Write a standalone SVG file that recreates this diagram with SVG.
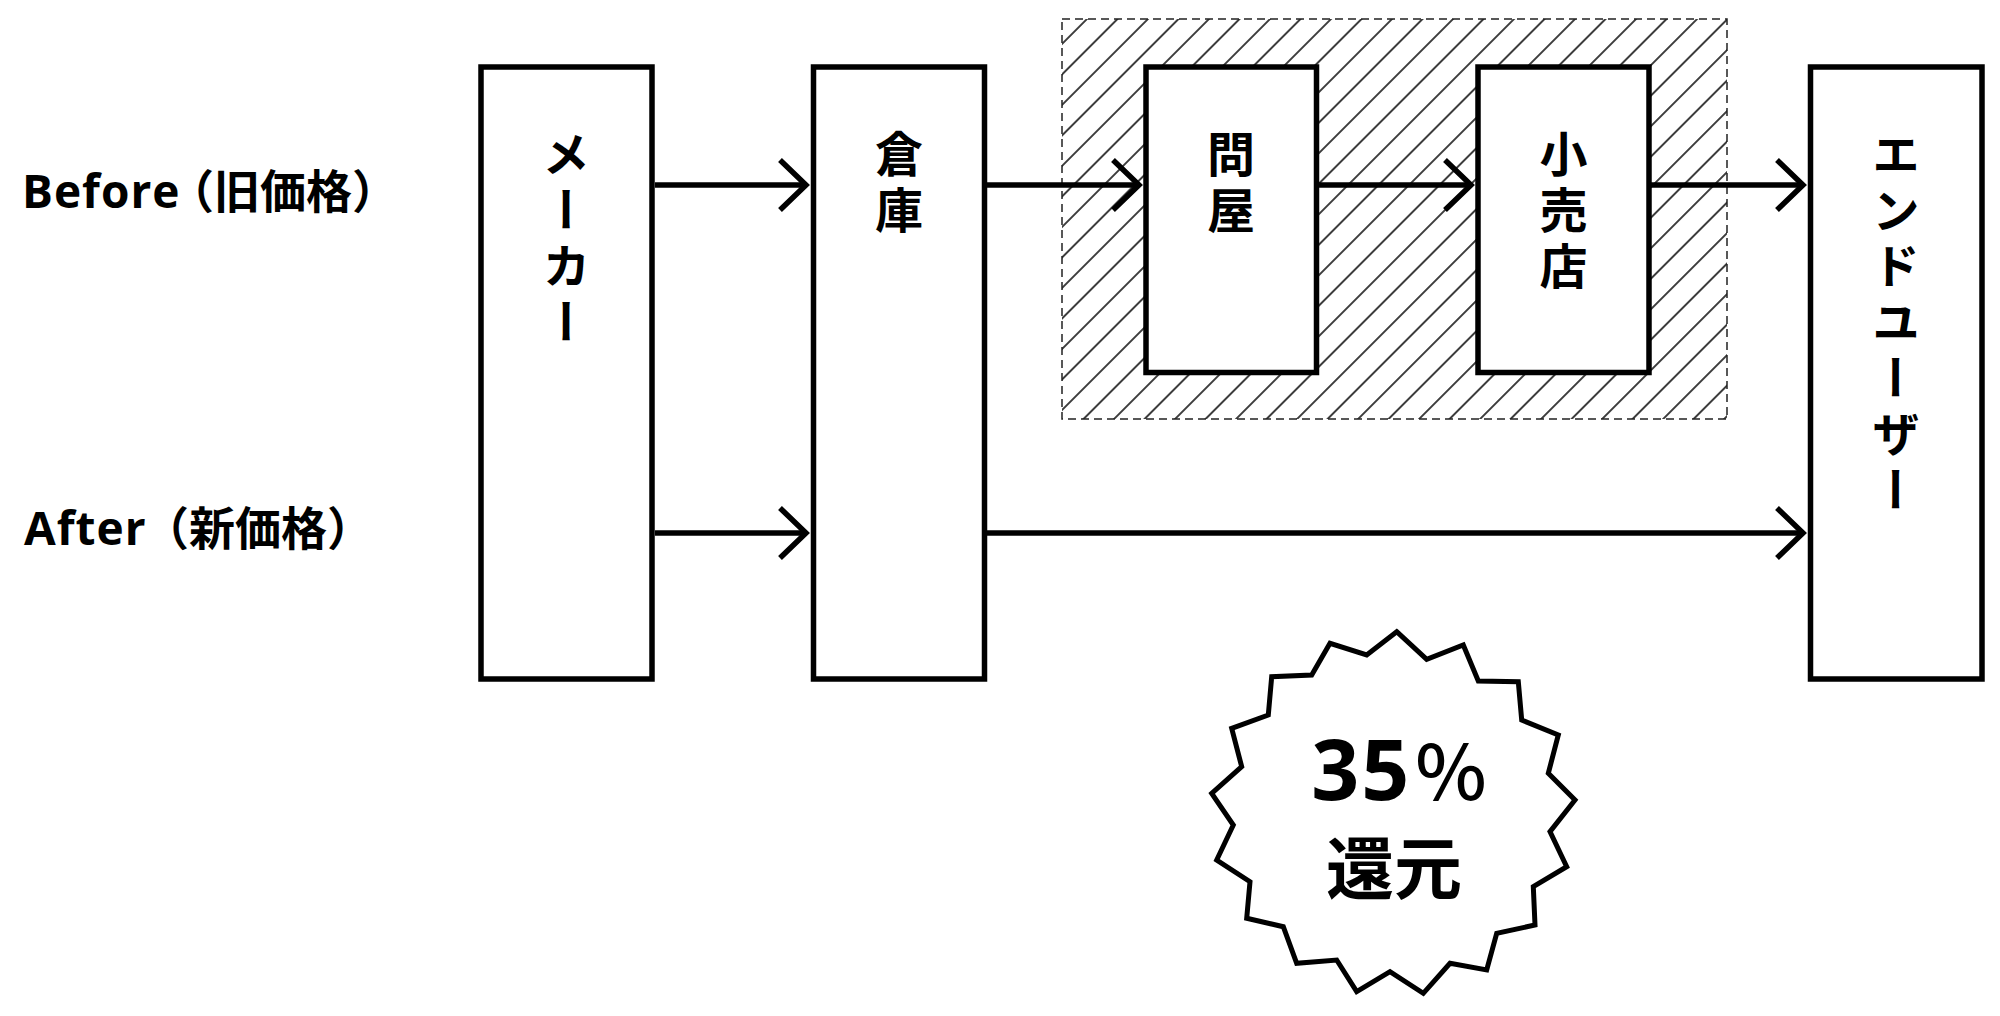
<svg xmlns="http://www.w3.org/2000/svg" width="2000" height="1016" viewBox="0 0 2000 1016">
<style>
  .box { fill: #fff; stroke: #000; stroke-width: 5.5; }
  .conn { fill: none; stroke: #000; stroke-width: 5.5; marker-end: url(#arr); }
  .vtxt { font-family: "Noto Sans CJK JP", sans-serif; font-weight: 700; font-size: 48px; fill: #000; writing-mode: vertical-rl; letter-spacing: 8px; text-anchor: start; }
  .lbl { font-family: "Open Sans", "Noto Sans CJK JP", sans-serif; font-weight: 700; font-size: 46px; fill: #000; letter-spacing: 1px; }
  .cjk { font-family: "Noto Sans CJK JP", sans-serif; font-weight: 700; font-size: 46px; letter-spacing: 0; }
</style>
<defs>
  <marker id="arr" viewBox="-34 -30 40 60" refX="0" refY="0" markerWidth="40" markerHeight="60" markerUnits="userSpaceOnUse" orient="auto" overflow="visible">
    <path d="M-26,-25 L0,0 L-26,25" fill="none" stroke="#000" stroke-width="5.5" stroke-linejoin="miter"/>
  </marker>
  <pattern id="hatch" patternUnits="userSpaceOnUse" x="16.3" y="0" width="21.57" height="21.57" patternTransform="rotate(45)">
    <line x1="10.8" y1="-2" x2="10.8" y2="24" stroke="#000" stroke-width="1.5"/>
  </pattern>
</defs>
<rect width="2000" height="1016" fill="#fff"/>

<g id="labels">
  <text class="lbl" x="22" y="208">Before<tspan class="cjk" x="168">（旧価格）</tspan></text>
  <text class="lbl" x="24" y="545">After<tspan class="cjk" x="143">（新価格）</tspan></text>
</g>

<g id="middleman-area">
  <rect x="1062" y="19" width="665" height="400" fill="url(#hatch)" stroke="#222" stroke-width="1.5" stroke-dasharray="8 5"/>
</g>

<g id="node-maker">
  <rect class="box" x="481" y="67" width="171" height="612"/>
  <text class="vtxt" x="566.5" y="130">メーカー</text>
</g>
<g id="node-warehouse">
  <rect class="box" x="813.5" y="67" width="171" height="612"/>
  <text class="vtxt" x="899" y="130">倉庫</text>
</g>
<g id="node-wholesaler">
  <rect class="box" x="1146" y="67" width="170.5" height="305.5"/>
  <text class="vtxt" x="1231" y="130">問屋</text>
</g>
<g id="node-retailer">
  <rect class="box" x="1478" y="67" width="171" height="305.5"/>
  <text class="vtxt" x="1563.5" y="130">小売店</text>
</g>
<g id="node-enduser">
  <rect class="box" x="1810.5" y="67" width="171.5" height="612"/>
  <text class="vtxt" x="1896" y="130">エンドユーザー</text>
</g>

<g id="connectors">
  <path class="conn" d="M655,185 H806"/>
  <path class="conn" d="M987,185 H1139"/>
  <path class="conn" d="M1319,185 H1471"/>
  <path class="conn" d="M1651,185 H1803"/>
  <path class="conn" d="M655,533 H806"/>
  <path class="conn" d="M987,533 H1803"/>
</g>

<g id="starburst">
  <polygon points="1396.7,631.7 1426.7,659.3 1463.3,645 1478.3,681 1518.3,681.7 1521.7,720 1558.3,735 1548.3,773.3 1575,800 1550,831.7 1566.7,866.7 1533.3,886.7 1535,925 1496.7,933.3 1486.7,970 1450,963.3 1423.3,993.3 1390,971.7 1356.7,991.7 1336.7,960 1296.7,963.3 1283.3,926.7 1246.7,918.3 1250,881.7 1216.7,860 1233.3,825 1211.7,793.3 1241.7,766.7 1231.7,728.3 1268.3,715 1271.7,676.7 1311.7,675 1330,643.3 1366.7,655" fill="#fff" stroke="#000" stroke-width="5" stroke-linejoin="miter"/>
  <text x="1400" y="800" text-anchor="middle" font-family="Open Sans, sans-serif" font-weight="700" font-size="84" letter-spacing="2" fill="#000">35<tspan font-family="Noto Sans CJK JP, sans-serif" font-weight="500" font-size="76" dx="4">%</tspan></text>
  <text x="1394" y="894" text-anchor="middle" font-family="Noto Sans CJK JP, sans-serif" font-weight="700" font-size="68" fill="#000">還元</text>
</g>
</svg>
